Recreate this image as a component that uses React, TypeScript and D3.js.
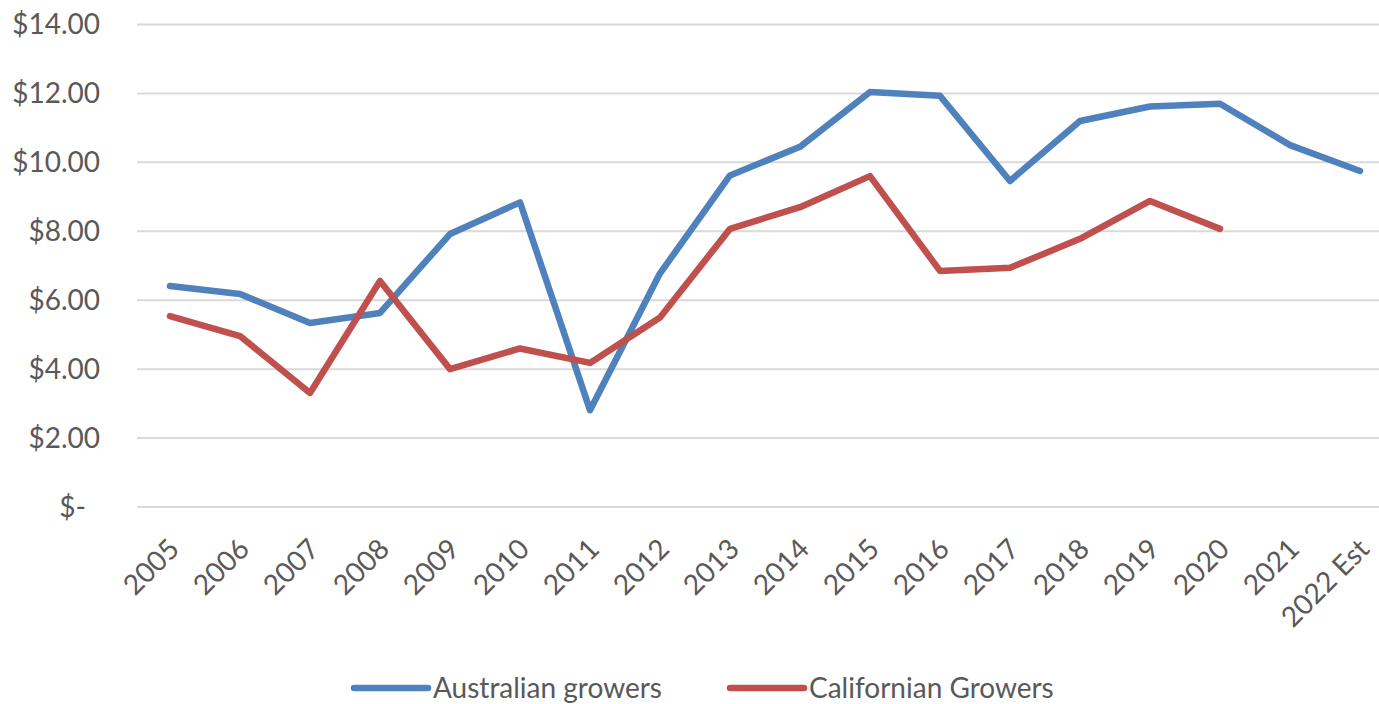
import React from "react";
import * as d3 from "d3";

const years = ["2005", "2006", "2007", "2008", "2009", "2010", "2011", "2012", "2013", "2014", "2015", "2016", "2017", "2018", "2019", "2020", "2021", "2022 Est"];
const australian = [6.41, 6.18, 5.34, 5.63, 7.92, 8.84, 2.81, 6.78, 9.62, 10.45, 12.04, 11.93, 9.46, 11.2, 11.62, 11.7, 10.5, 9.75];
const californian = [5.54, 4.96, 3.31, 6.56, 4.0, 4.6, 4.18, 5.5, 8.07, 8.7, 9.6, 6.85, 6.94, 7.78, 8.88, 8.07];
const yTicks = [0, 2, 4, 6, 8, 10, 12, 14];
const seriesNames = ["Australian growers", "Californian Growers"];

const W = 1379;
const H = 704;
const font = "Lato, 'Open Sans', sans-serif";
const textColor = "#595959";
const colors = ["#4f81bd", "#c0504d"];

const App = () => {
  const x = d3.scaleBand().domain(years).range([135, 1395]);
  const y = d3.scaleLinear().domain([0, 14]).range([507, 24.5]);
  const cx = (i: number) => (x(years[i]) as number) + x.bandwidth() / 2;

  const line = d3.line<number>()
    .x((_, i) => cx(i))
    .y((d) => y(d));

  const fmt = (v: number) => (v === 0 ? "$-" : "$" + v.toFixed(2));

  const legendItems = [
    { name: seriesNames[0], color: colors[0], lineX: 354, textX: 433 },
    { name: seriesNames[1], color: colors[1], lineX: 730, textX: 809 },
  ];

  return (
    <svg width={W} height={H} style={{ display: "block", position: "absolute", left: 0, top: 0 }}>
      <rect width={W} height={H} fill="#fff" />
      {yTicks.map((t) => (
        <g key={t}>
          <line x1={137} x2={W} y1={y(t)} y2={y(t)} stroke="#d9d9d9" strokeWidth={2} />
          <text x={t === 0 ? 86 : 100} y={y(t)} dy="0.35em" textAnchor="end" fill={textColor}
            fontFamily={font} fontSize={28}>{fmt(t)}</text>
        </g>
      ))}
      {years.map((yr, i) => (
        <text key={yr} transform={`translate(${cx(i) - 3},${537}) rotate(-45)`} textAnchor="end"
          dy="0.7em" fill={textColor} fontFamily={font} fontSize={28}>{yr}</text>
      ))}
      <path d={line(australian) || ""} fill="none" stroke={colors[0]} strokeWidth={6.5}
        strokeLinejoin="round" strokeLinecap="round" />
      <path d={line(californian) || ""} fill="none" stroke={colors[1]} strokeWidth={6.5}
        strokeLinejoin="round" strokeLinecap="round" />
      {legendItems.map((l) => (
        <g key={l.name}>
          <line x1={l.lineX} x2={l.lineX + 74} y1={688} y2={688} stroke={l.color} strokeWidth={6.5}
            strokeLinecap="round" />
          <text x={l.textX} y={688} dy="0.35em" fill={textColor} fontFamily={font} fontSize={28}>{l.name}</text>
        </g>
      ))}
    </svg>
  );
};

export default App;
